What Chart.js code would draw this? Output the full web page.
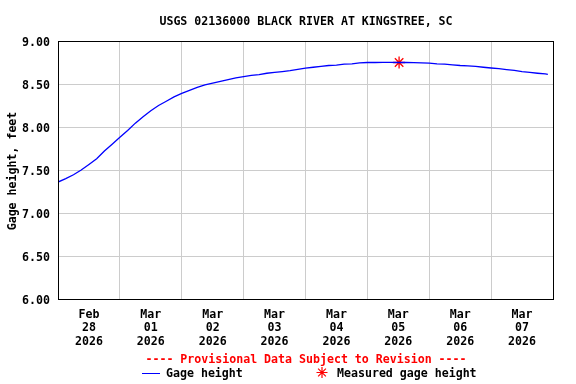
<!DOCTYPE html>
<html>
<head>
<meta charset="utf-8">
<script src="https://cdn.jsdelivr.net/npm/chart.js@4.4.1/dist/chart.umd.min.js"></script>
<style>
  html, body { margin: 0; padding: 0; background: #fff; }
  #wrap { width: 576px; height: 384px; position: relative; }
</style>
</head>
<body>
<div id="wrap"><canvas id="gage" width="576" height="384"></canvas></div>
<script>
// hours since Feb 28 2026 00:00
const hours = [0, 3, 6, 9, 12, 15, 18, 21, 24, 27, 30, 33, 36, 39, 42, 45,
  48, 51, 54, 57, 60, 63, 66, 69, 72, 75, 78, 81, 84, 87, 90, 93,
  96, 99, 102, 105, 108, 111, 114, 117, 120, 123, 126, 129, 132, 135, 138, 141,
  144, 147, 150, 153, 156, 159, 162, 165, 168, 171, 174, 177, 180, 183, 186, 189, 190];
const gageHeight = [7.36, 7.40, 7.445, 7.50, 7.565, 7.63, 7.72, 7.80,
  7.88, 7.96, 8.045, 8.12, 8.19, 8.25, 8.30, 8.35,
  8.39, 8.425, 8.46, 8.49, 8.51, 8.53, 8.55, 8.57,
  8.585, 8.60, 8.61, 8.625, 8.635, 8.645, 8.655, 8.67,
  8.685, 8.695, 8.705, 8.715, 8.72, 8.73, 8.735, 8.745,
  8.75, 8.75, 8.752, 8.752, 8.75, 8.75, 8.748, 8.746,
  8.743, 8.735, 8.73, 8.722, 8.715, 8.71, 8.705, 8.695,
  8.686, 8.678, 8.668, 8.658, 8.645, 8.635, 8.625, 8.617, 8.612];
const measuredHours = [132.3];
const measuredHeight = [8.75];

const dayTicks = [12, 36, 60, 84, 108, 132, 156, 180];
const dayLabels = [
  ['Feb', '28', '2026'], ['Mar', '01', '2026'], ['Mar', '02', '2026'], ['Mar', '03', '2026'],
  ['Mar', '04', '2026'], ['Mar', '05', '2026'], ['Mar', '06', '2026'], ['Mar', '07', '2026']
];
const yTicks = [6.0, 6.5, 7.0, 7.5, 8.0, 8.5, 9.0];

const titleText = 'USGS 02136000 BLACK RIVER AT KINGSTREE, SC';
const yTitle = 'Gage height, feet';
const noteText = '---- Provisional Data Subject to Revision ----';

const mono = '"DejaVu Sans Mono", "Liberation Mono", monospace';
const fontSize = 11.6;

const usgsDecor = {
  id: 'usgsDecor',
  afterDraw(chart) {
    const { ctx, chartArea: a } = chart;
    ctx.save();
    // plot frame
    ctx.strokeStyle = '#000';
    ctx.lineWidth = 1;
    ctx.strokeRect(Math.round(a.left) + 0.5, Math.round(a.top) + 0.5,
      Math.round(a.right - a.left), Math.round(a.bottom - a.top));

    ctx.font = 'bold ' + fontSize + 'px ' + mono;
    ctx.textBaseline = 'middle';
    ctx.textAlign = 'center';
    ctx.fillStyle = '#000';
    ctx.fillText(titleText, 306, 21.5);

    ctx.save();
    ctx.translate(13, 171);
    ctx.rotate(-Math.PI / 2);
    ctx.fillText(yTitle, 0, 0);
    ctx.restore();

    ctx.fillStyle = '#ff0000';
    ctx.fillText(noteText, 306, 360);

    // legend
    ctx.strokeStyle = '#0000ff';
    ctx.beginPath();
    ctx.moveTo(142, 373.5);
    ctx.lineTo(160, 373.5);
    ctx.stroke();
    ctx.textAlign = 'left';
    ctx.fillStyle = '#000';
    ctx.fillText('Gage height', 166, 374);
    ctx.fillText('Measured gage height', 337, 374);

    ctx.strokeStyle = '#ff0000';
    ctx.lineWidth = 1.2;
    const cx = 322, cy = 372.5, r = 5.5;
    ctx.beginPath();
    for (let k = 0; k < 4; k++) {
      const ang = k * Math.PI / 4;
      ctx.moveTo(cx - r * Math.cos(ang), cy - r * Math.sin(ang));
      ctx.lineTo(cx + r * Math.cos(ang), cy + r * Math.sin(ang));
    }
    ctx.stroke();
    ctx.restore();
  }
};

new Chart(document.getElementById('gage'), {
  type: 'line',
  data: {
    datasets: [
      {
        label: 'Gage height',
        data: hours.map((h, i) => ({ x: h, y: gageHeight[i] })),
        borderColor: '#0000ff',
        borderWidth: 1.3,
        pointRadius: 0,
        tension: 0,
        xAxisID: 'x'
      },
      {
        type: 'scatter',
        label: 'Measured gage height',
        data: measuredHours.map((h, i) => ({ x: h, y: measuredHeight[i] })),
        pointStyle: 'star',
        radius: 6,
        borderColor: '#ff0000',
        backgroundColor: '#ff0000',
        borderWidth: 1.3,
        xAxisID: 'x'
      }
    ]
  },
  options: {
    responsive: false,
    animation: false,
    layout: { padding: { left: 0, top: 41, right: 23, bottom: 0 } },
    plugins: { legend: { display: false }, tooltip: { enabled: false } },
    scales: {
      x: {
        type: 'linear',
        min: 0,
        max: 192,
        afterBuildTicks: (s) => { s.ticks = [0, 24, 48, 72, 96, 120, 144, 168, 192].map(v => ({ value: v })); },
        afterFit: (s) => { s.height = 0; },
        ticks: { display: false },
        grid: { color: '#cccccc', drawTicks: false },
        border: { display: false }
      },
      xl: {
        type: 'linear',
        position: 'bottom',
        min: 0,
        max: 192,
        afterBuildTicks: (s) => { s.ticks = dayTicks.map(v => ({ value: v })); },
        afterFit: (s) => { s.height = 85; },
        grid: { display: false, drawTicks: false },
        border: { display: false },
        ticks: {
          autoSkip: false,
          maxRotation: 0,
          padding: 9,
          color: '#000',
          font: { family: mono, size: fontSize, weight: 'bold', lineHeight: 1.16 },
          callback: (v, i) => dayLabels[i]
        }
      },
      y: {
        min: 6,
        max: 9,
        afterBuildTicks: (s) => { s.ticks = yTicks.map(v => ({ value: v })); },
        afterFit: (s) => { s.width = 58; },
        grid: { color: '#cccccc', drawTicks: false },
        border: { display: false },
        ticks: {
          padding: 8,
          labelOffset: 2,
          color: '#000',
          font: { family: mono, size: fontSize, weight: 'bold' },
          callback: (v) => v.toFixed(2)
        }
      }
    }
  },
  plugins: [usgsDecor]
});
</script>
</body>
</html>
